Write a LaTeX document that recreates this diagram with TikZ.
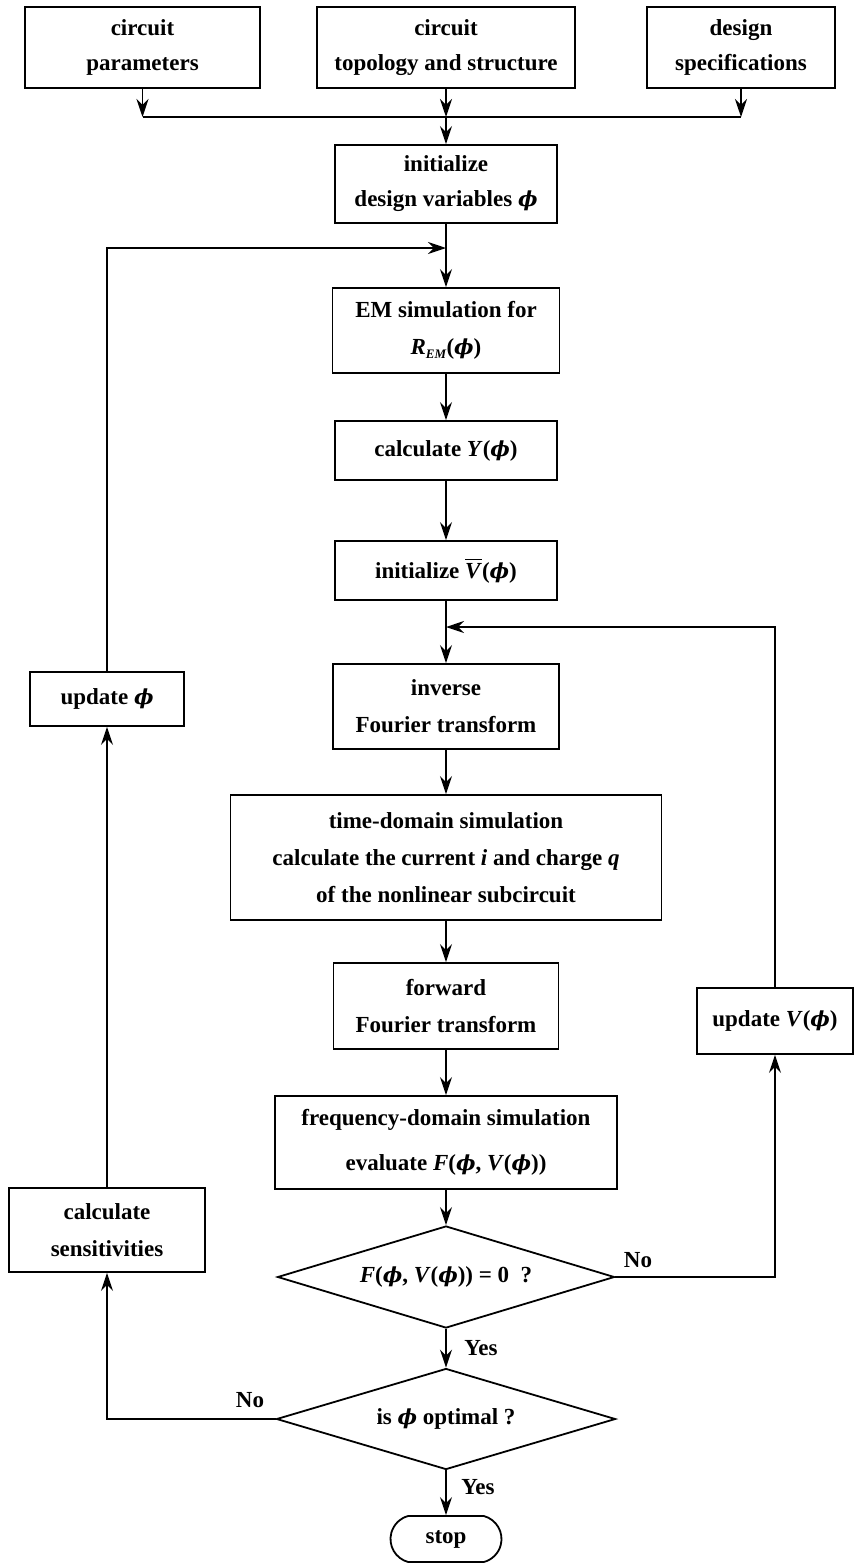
\documentclass[tikz,border=0pt]{standalone}
\usepackage{amsmath}
\usepackage{fontspec}
\setmainfont{Liberation Serif}
\newfontfamily\phfont[Scale=0.9]{DejaVu Serif}
\usetikzlibrary{arrows.meta,shapes.geometric,shapes.misc}
\newcommand{\ph}{{\phfont\bfseries\itshape ϕ}}
\newcommand{\bi}[1]{\textbf{\textit{#1}}}
\begin{document}
\begin{tikzpicture}[x=1pt,y=-1pt,
  every node/.style={font=\fontsize{23}{37}\selectfont\bfseries},
  box/.style={draw,line width=1.8pt,align=center,inner sep=0pt},
  dia/.style={draw,diamond,line width=1.8pt,inner sep=0pt,aspect=3.3},
  arr/.style={line width=1.8pt,-{Stealth[length=18pt,width=12pt,inset=6pt]}},
  ln/.style={line width=1.8pt},
  lbl/.style={inner sep=0pt}]
\useasboundingbox (0,0) rectangle (854,1564);
% top row
\node[box,minimum width=235pt,minimum height=81pt,font=\fontsize{23}{35}\selectfont\bfseries] (par) at (142.5,47.5) {circuit\\parameters};
\node[box,minimum width=258pt,minimum height=81pt,font=\fontsize{23}{35}\selectfont\bfseries] (topo) at (446,47.5) {circuit\\topology and structure};
\node[box,minimum width=188pt,minimum height=81pt,font=\fontsize{23}{35}\selectfont\bfseries] (spec) at (741,47.5) {design\\specifications};
% main column
\node[box,minimum width=222pt,minimum height=78pt,font=\fontsize{23}{35}\selectfont\bfseries] (init) at (446,184) {initialize\\design variables \ph};
\node[box,minimum width=227pt,minimum height=85pt] (em) at (446,330.5) {EM simulation for\\\bi{R}\raisebox{-0.35ex}{\fontsize{13}{13}\selectfont\bi{EM}}(\ph)};
\node[box,minimum width=222pt,minimum height=59pt] (caly) at (446,450.5) {calculate \bi{Y}(\ph)};
\node[box,minimum width=222pt,minimum height=59pt] (initv) at (446,570.5) {initialize $\overline{\mbox{\bi{V}}}$(\ph)};
\node[box,minimum width=226pt,minimum height=85pt] (inv) at (446,706.5) {inverse\\Fourier transform};
\node[box,minimum width=431pt,minimum height=125pt] (time) at (446,857.5) {time-domain simulation\\calculate the current \bi{i} and charge \bi{q}\\of the nonlinear subcircuit};
\node[box,minimum width=225pt,minimum height=86pt] (fwd) at (446,1006) {forward\\Fourier transform};
\node[box,minimum width=342pt,minimum height=93pt] (freq) at (446,1142.5) {frequency-domain simulation\\[8pt]evaluate \bi{F}(\ph, \bi{V}(\ph))};
\node[dia,minimum width=337pt,minimum height=102pt] (d1) at (446,1277) {\bi{F}(\ph, \bi{V}(\ph)) = 0\ \ ?};
\node[dia,minimum width=339pt,minimum height=101pt] (d2) at (446,1419) {is \ph{} optimal ?};
\node[draw,line width=1.8pt,rounded rectangle,rounded rectangle arc length=150,minimum width=111pt,minimum height=46pt,inner sep=0pt] (stop) at (446,1539) {stop};
% side boxes
\node[box,minimum width=154pt,minimum height=54pt] (updp) at (107,699) {update \ph};
\node[box,minimum width=196pt,minimum height=84pt] (sens) at (107,1230) {calculate\\sensitivities};
\node[box,minimum width=156pt,minimum height=66pt] (updv) at (775,1021) {update \bi{V}(\ph)};
% labels
\node[lbl] (no1) at (638,1260) {No};
\node[lbl] (yes1) at (481,1348) {Yes};
\node[lbl] (no2) at (250,1400) {No};
\node[lbl] (yes2) at (478,1487) {Yes};
% junctions
\coordinate (m) at (446,117);
\coordinate (jl) at (446,248);
\coordinate (jr) at (446,627);
% connectors
\draw[arr] (par.south) -- (par.south |- m);
\draw[arr] (topo.south) -- (m);
\draw[arr] (spec.south) -- (spec.south |- m);
\draw[ln] (par.south |- m) -- (spec.south |- m);
\draw[arr] (m) -- (init.north);
\draw[arr] (init.south) -- (em.north);
\draw[arr] (updp.north) |- (jl);
\draw[arr] (em.south) -- (caly.north);
\draw[arr] (caly.south) -- (initv.north);
\draw[arr] (initv.south) -- (inv.north);
\draw[arr] (updv.north) |- (jr);
\draw[arr] (inv.south) -- (time.north);
\draw[arr] (time.south) -- (fwd.north);
\draw[arr] (fwd.south) -- (freq.north);
\draw[arr] (freq.south) -- (d1.north);
\draw[arr] (d1.south) -- (d2.north);
\draw[arr] (d2.south) -- (stop.north);
\draw[arr] (d1.east) -| (updv.south);
\draw[arr] (d2.west) -| (sens.south);
\draw[arr] (sens.north) -- (updp.south);
\end{tikzpicture}
\end{document}
